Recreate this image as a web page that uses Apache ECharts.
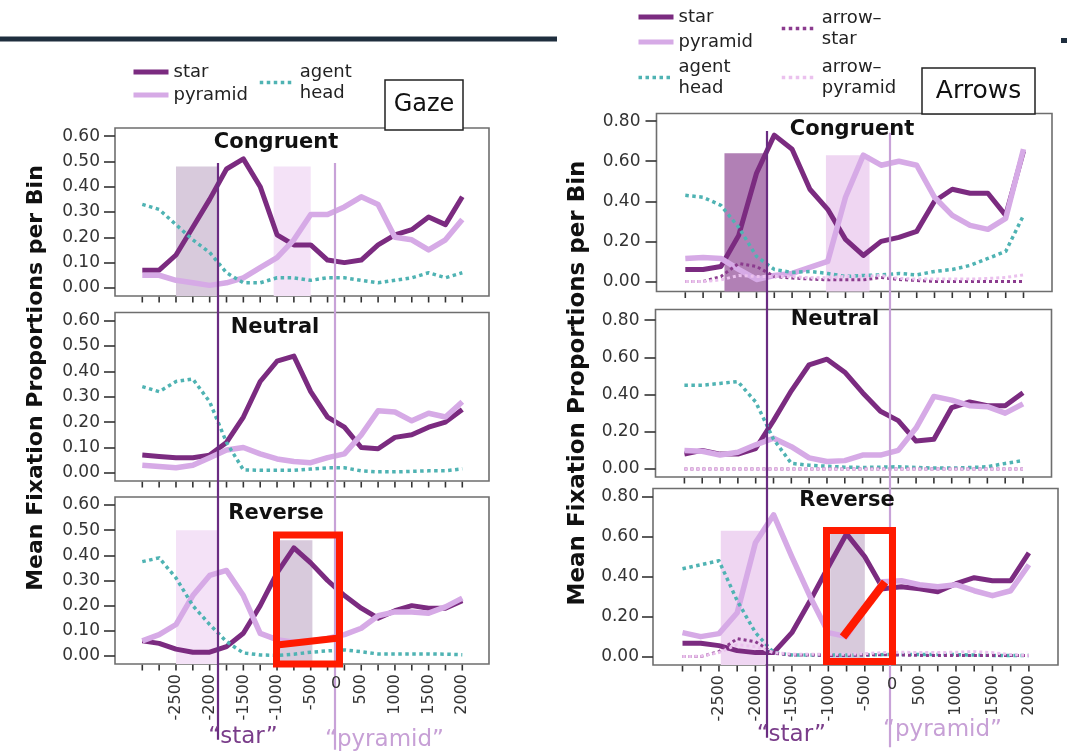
<!DOCTYPE html>
<html><head><meta charset="utf-8">
<script src="https://cdn.jsdelivr.net/npm/echarts@6/dist/echarts.min.js"></script>
<style>html,body{margin:0;padding:0;background:#fff}#c{width:1067px;height:754px}</style>
</head><body><div id="c"></div>
<script>
// ---------- DATA ----------
const bins = [0,1,2,3,4,5,6,7,8,9,10,11,12,13,14,15,16,17,18,19];
const tickBins = [2,4,6,8,10,13,15,17,19];
const tickLabels = ['-2500','-2000','-1500','-1000','-500','500','1000','1500','2000'];
const zeroBin = 11.5;
const zeroLabel = '0';
const gazeYTicks = [0,0.1,0.2,0.3,0.4,0.5,0.6];
const arrowYTicks = [0,0.2,0.4,0.6,0.8];
const gazeOnsets = {star: 4.46, pyramid: 11.45};
const arrowOnsets = {star: 4.57, pyramid: 11.5};

// Gaze – Congruent
const gcStar  = [0.07,0.07,0.13,0.24,0.35,0.47,0.51,0.40,0.21,0.17,0.17,0.11,0.10,0.11,0.17,0.21,0.23,0.28,0.25,0.36];
const gcPyr   = [0.05,0.05,0.03,0.02,0.01,0.02,0.04,0.08,0.12,0.19,0.29,0.29,0.32,0.36,0.33,0.20,0.19,0.15,0.19,0.27];
const gcAgent = [0.33,0.31,0.25,0.19,0.14,0.06,0.02,0.02,0.04,0.04,0.03,0.04,0.04,0.03,0.02,0.03,0.04,0.06,0.04,0.06];
// Gaze – Neutral
const gnStar  = [0.07,0.065,0.06,0.06,0.07,0.12,0.22,0.36,0.44,0.46,0.32,0.22,0.18,0.10,0.095,0.14,0.15,0.18,0.20,0.25];
const gnPyr   = [0.03,0.025,0.02,0.03,0.06,0.09,0.10,0.075,0.055,0.045,0.04,0.06,0.075,0.15,0.245,0.24,0.205,0.235,0.22,0.28];
const gnAgent = [0.34,0.32,0.36,0.37,0.28,0.12,0.012,0.01,0.01,0.01,0.015,0.02,0.02,0.008,0.004,0.004,0.006,0.008,0.008,0.016];
// Gaze – Reverse
const grStar  = [0.06,0.05,0.027,0.015,0.015,0.037,0.09,0.20,0.33,0.43,0.37,0.30,0.24,0.19,0.15,0.18,0.20,0.19,0.19,0.22];
const grPyr   = [0.06,0.085,0.125,0.24,0.32,0.34,0.24,0.09,0.065,0.055,0.06,0.07,0.085,0.11,0.16,0.175,0.175,0.17,0.195,0.23];
const grAgent = [0.375,0.39,0.31,0.20,0.125,0.057,0.012,0.004,0.002,0.007,0.015,0.02,0.024,0.017,0.008,0.008,0.008,0.008,0.007,0.005];
// Arrows – Congruent
const acStar  = [0.06,0.06,0.075,0.23,0.54,0.73,0.66,0.46,0.36,0.21,0.13,0.20,0.22,0.25,0.40,0.46,0.44,0.44,0.33,0.65];
const acPyr   = [0.115,0.12,0.115,0.06,0.01,0.03,0.04,0.07,0.10,0.42,0.63,0.58,0.60,0.58,0.42,0.33,0.28,0.26,0.315,0.66];
const acAgent = [0.43,0.42,0.38,0.27,0.125,0.06,0.045,0.05,0.04,0.025,0.03,0.033,0.04,0.033,0.05,0.06,0.08,0.115,0.15,0.33];
const acArrowStar = [0,0,0.025,0.09,0.075,0.025,0.017,0.012,0.008,0.008,0.008,0.02,0.01,0.005,0,0,0,0,0,0];
const acArrowPyr  = [0,0,0.008,0.03,0.025,0.025,0.025,0.018,0.018,0.025,0.025,0.03,0.015,0.012,0.012,0.012,0.012,0.015,0.02,0.033];
// Arrows – Neutral
const anStar  = [0.08,0.10,0.08,0.08,0.11,0.26,0.42,0.56,0.59,0.52,0.41,0.31,0.26,0.15,0.16,0.33,0.36,0.34,0.34,0.41];
const anPyr   = [0.10,0.095,0.075,0.09,0.13,0.165,0.12,0.06,0.04,0.045,0.075,0.075,0.10,0.22,0.39,0.37,0.34,0.335,0.30,0.35];
const anAgent = [0.45,0.45,0.46,0.47,0.36,0.16,0.03,0.02,0.015,0.01,0.008,0.01,0.012,0.008,0.005,0.005,0.008,0.012,0.03,0.045];
const anArrowStar = [0,0,0,0,0,0,0,0,0,0,0,0,0,0,0,0,0,0,0,0];
const anArrowPyr  = [0,0,0,0,0,0,0,0,0,0,0,0,0,0,0,0,0,0,0,0];
// Arrows – Reverse
const arStar  = [0.067,0.067,0.055,0.03,0.02,0.02,0.12,0.28,0.45,0.615,0.50,0.34,0.35,0.34,0.325,0.365,0.395,0.38,0.38,0.52];
const arPyr   = [0.12,0.10,0.115,0.22,0.57,0.71,0.50,0.30,0.12,0.10,0.25,0.375,0.38,0.36,0.35,0.36,0.33,0.305,0.33,0.46];
const arAgent = [0.44,0.46,0.48,0.28,0.12,0.02,0.008,0.008,0.008,0.008,0.008,0.01,0.01,0.01,0.01,0.01,0.008,0.006,0.005,0.005];
const arArrowStar = [0,0,0.025,0.09,0.075,0.017,0.008,0.008,0.006,0.006,0.008,0.01,0.008,0.006,0.006,0.006,0.006,0.006,0.005,0.005];
const arArrowPyr  = [0,0.002,0.02,0.06,0.05,0.02,0.012,0.012,0.012,0.012,0.015,0.02,0.022,0.02,0.02,0.022,0.025,0.02,0.01,0.005];

// shaded analysis windows [fromBin, toBin, top]
const gcWindows = [[2,4.45,0.48],[7.8,10,0.48]];
const grWindows = [[2,4.45,0.50],[8.1,10.1,0.46]];
const acWindows = [[2.2,4.55,0.64],[7.9,10.35,0.63]];
const arWindows = [[2.1,4.55,0.63],[8.1,10.0,0.62]];

// ---------- STYLE / LAYOUT ----------
const FF = "'DejaVu Sans', 'Liberation Sans', sans-serif";
const C = {
  star:'#7b2b80', pyramid:'#d6aae6', agent:'#4fb3b3', arrowStar:'#8b3b8e', arrowPyr:'#ebc1ee',
  shadeDark:'#d8cadc', shadePink:'#f4e2f7', shadeStrong:'#b180b5', shadePink2:'#efd6f2'
};
// frame = outer box; inner = span of first..last bin tick
const frames = [
  {left:115,  width:374,   top:128,   height:168,   ymin:-0.032, ymax:0.632, ticks:gazeYTicks,  labels:false, margin:15, inL:142.3, inW:320},
  {left:115,  width:374,   top:312.5, height:168.5, ymin:-0.032, ymax:0.632, ticks:gazeYTicks,  labels:false, margin:15, inL:142.3, inW:320},
  {left:115,  width:374,   top:497,   height:167,   ymin:-0.032, ymax:0.632, ticks:gazeYTicks,  labels:true,  margin:15, inL:142.3, inW:320},
  {left:656.5,width:395.5, top:113.5, height:178,   ymin:-0.05,  ymax:0.838, ticks:arrowYTicks, labels:false, margin:16, inL:685.3, inW:338.2},
  {left:655.5,width:396,   top:309.5, height:167.5, ymin:-0.043, ymax:0.857, ticks:arrowYTicks, labels:false, margin:16, inL:684.4, inW:338.6},
  {left:653,  width:405,   top:488.5, height:176.5, ymin:-0.042, ymax:0.842, ticks:arrowYTicks, labels:true,  margin:14, inL:682.5, inW:346.4}
];
const XMIN = -1.62, XMAX = 20.6;
const D = 6;      // first data grid index
const OV = 12;    // first overlay grid index

const option = {animation:false, backgroundColor:'#fff', grid:[], xAxis:[], yAxis:[], series:[], legend:[]};
// frames (box only)
frames.forEach((f,i)=>{
  option.grid.push({left:f.left, top:f.top, width:f.width, height:f.height, show:true,
    borderColor:'#6e6e6e', borderWidth:1.6, backgroundColor:'#fff'});
  option.xAxis.push({type:'value', gridIndex:i, min:0, max:1, show:false, axisLine:{onZero:false}});
  option.yAxis.push({type:'value', gridIndex:i, min:0, max:1, show:false, axisLine:{onZero:false}});
});
// data grids
frames.forEach((f,i)=>{
  const gi = D+i;
  option.grid.push({left:f.inL, top:f.top, width:f.inW, height:f.height, show:false});
  option.xAxis.push({type:'value', gridIndex:gi, min:0, max:19, interval:1, position:'bottom',
    axisLine:{show:false, onZero:false}, splitLine:{show:false},
    axisTick:{show:false},
    axisLabel:{show:f.labels, rotate:90, margin:10, fontSize:16, color:'#333', fontFamily:FF,
      formatter:v=>{const k=tickBins.indexOf(v); return k<0?'':tickLabels[k];}}});
  option.yAxis.push({type:'value', gridIndex:gi, min:f.ymin, max:f.ymax, position:'left', offset:f.inL-f.left,
    axisLine:{show:false, onZero:false}, splitLine:{show:false},
    axisTick:{show:true, customValues:f.ticks, length:11, lineStyle:{color:'#333', width:1.6}},
    axisLabel:{show:true, customValues:f.ticks, margin:f.margin, fontSize:17, color:'#333', fontFamily:FF,
      formatter:v=>v.toFixed(2)}});
});
// overlay grids for the word-onset lines
option.grid.push({left:115, width:374, top:163, bottom:0, show:false});
option.grid.push({left:656.5, width:395.5, top:131, bottom:0, show:false});
[OV, OV+1].forEach(i=>{
  option.xAxis.push({type:'value', gridIndex:i, min:XMIN, max:XMAX, show:false, axisLine:{onZero:false}});
  option.yAxis.push({type:'value', gridIndex:i, min:0, max:1, inverse:true, show:false, axisLine:{onZero:false}});
});

// x-axis bin ticks (one per bin, hanging below the frame)
frames.forEach((f,i)=>{
  const gi = D+i;
  option.series.push({type:'custom', name:'_ticks'+i, xAxisIndex:gi, yAxisIndex:gi, silent:true, clip:false, z:2,
    data: bins.map(b=>[b, f.ymin]),
    renderItem:(params, api)=>{
      const p = api.coord([api.value(0), api.value(1)]);
      return {type:'line', shape:{x1:p[0], y1:p[1]+0.8, x2:p[0], y2:p[1]+6.5}, style:{stroke:'#333', lineWidth:1.6}};
    }});
});

function ls(name, values, gi, st, z){
  return {type:'line', name, xAxisIndex:gi, yAxisIndex:gi, z:z||3, silent:true,
    data: values.map((v,k)=>[bins[k], v]), symbol:'none', showSymbol:false,
    lineStyle:Object.assign({cap:'butt', join:'round'}, st), itemStyle:{color:st.color}};
}
function shades(gi, wins, colors, ymin){
  return {type:'line', name:'_shade'+gi, xAxisIndex:gi, yAxisIndex:gi, data:[], silent:true, z:1,
    markArea:{silent:true, data: wins.map((w,k)=>[
      {xAxis:w[0], yAxis:ymin, itemStyle:{color:colors[k], opacity:1, borderWidth:0}},
      {xAxis:w[1], yAxis:w[2]}])}};
}
const S = {
  star:{color:C.star, width:5}, pyramid:{color:C.pyramid, width:5.5},
  agent:{color:C.agent, width:3.5, type:'dotted'},
  arrowStar:{color:C.arrowStar, width:3, type:'dotted'}, arrowPyr:{color:C.arrowPyr, width:3, type:'dotted'}
};

option.series.push(shades(D+0, gcWindows, [C.shadeDark, C.shadePink], frames[0].ymin));
option.series.push(shades(D+2, grWindows, [C.shadePink, C.shadeDark], frames[2].ymin));
option.series.push(shades(D+3, acWindows, [C.shadeStrong, C.shadePink2], frames[3].ymin));
option.series.push(shades(D+5, arWindows, [C.shadePink2, C.shadeDark], frames[5].ymin));

const gazeSets = [[gcStar,gcPyr,gcAgent],[gnStar,gnPyr,gnAgent],[grStar,grPyr,grAgent]];
gazeSets.forEach((s,i)=>{
  const gi = D+i;
  option.series.push(ls('star', s[0], gi, S.star, 3));
  option.series.push(ls('pyramid', s[1], gi, S.pyramid, 3));
  option.series.push(ls('agent head', s[2], gi, S.agent, 4));
});
const arrowSets = [[acStar,acPyr,acAgent,acArrowStar,acArrowPyr],[anStar,anPyr,anAgent,anArrowStar,anArrowPyr],[arStar,arPyr,arAgent,arArrowStar,arArrowPyr]];
arrowSets.forEach((s,i)=>{
  const gi = D+3+i;
  option.series.push(ls('star', s[0], gi, S.star, 3));
  option.series.push(ls('pyramid', s[1], gi, S.pyramid, 3));
  option.series.push(ls('agent head', s[2], gi, S.agent, 4));
  option.series.push(ls('arrow-star', s[3], gi, S.arrowStar, 4));
  option.series.push(ls('arrow-pyramid', s[4], gi, S.arrowPyr, 4));
});
function onsetLines(gi, on, ends){
  return {type:'line', name:'_onset'+gi, xAxisIndex:gi, yAxisIndex:gi, data:[[on.star,0]], symbol:'none', silent:true, z:6,
    lineStyle:{opacity:0},
    markLine:{silent:true, symbol:['none','none'], label:{show:false}, animation:false,
      data:[
        [{coord:[on.star,ends[0]], lineStyle:{color:'#6a2c82', width:2.2, type:'solid'}},{coord:[on.star,ends[1]]}],
        [{coord:[on.pyramid,ends[2]], lineStyle:{color:'#c8a2d8', width:2.2, type:'solid'}},{coord:[on.pyramid,ends[3]]}]
      ]}};
}
option.series.push(onsetLines(OV, gazeOnsets, [0,0.976,0,0.993]));
option.series.push(onsetLines(OV+1, arrowOnsets, [0,0.974,0.003,0.989]));

const legendNames = {'star':'star','pyramid':'pyramid','agent head':'agent\nhead','arrow-star':'arrow–\nstar','arrow-pyramid':'arrow–\npyramid'};
const legendLine = {
  'star':{color:C.star, width:5, type:'solid'}, 'pyramid':{color:C.pyramid, width:5, type:'solid'},
  'agent head':{color:C.agent, width:3.5, type:'dotted'}, 'arrow-star':{color:C.arrowStar, width:3.5, type:'dotted'},
  'arrow-pyramid':{color:C.arrowPyr, width:3.5, type:'dotted'}
};
function lg(left, top, names, gap){
  return {left, top, orient:'vertical', itemGap:gap, itemWidth:35, itemHeight:14, selectedMode:false,
    data: names.map(n=>({name:n, lineStyle:legendLine[n], itemStyle:{opacity:0, borderWidth:0}})),
    itemStyle:{opacity:0, borderWidth:0},
    formatter:n=>legendNames[n], textStyle:{fontSize:18, lineHeight:21, color:'#222', fontFamily:FF}, padding:0};
}
option.legend = [
  lg(131, 61.5, ['star','pyramid'], 2),
  lg(258, 61.5, ['agent head'], 2),
  lg(636, 6.5, ['star','pyramid','agent head'], 4),
  lg(780, 7.5, ['arrow-star','arrow-pyramid'], 7)
];

const chart = echarts.init(document.getElementById('c'));
chart.setOption(option);

// ---------- TEXT & ANNOTATIONS ----------
function px(axisIdx, v){ return chart.convertToPixel({xAxisIndex:axisIdx}, v); }
const titles = [
  ['Congruent', 276, 143], ['Neutral', 275, 328], ['Reverse', 276, 514],
  ['Congruent', 852, 130], ['Neutral', 835, 320], ['Reverse', 847, 501]
];
const g = [];
g.push({type:'line', shape:{x1:0,y1:39,x2:557,y2:39}, style:{stroke:'#1f2e3e', lineWidth:5}, z:10});
g.push({type:'rect', shape:{x:1061,y:38,width:6,height:5}, style:{fill:'#1f2e3e'}, z:10});
titles.forEach(t=>g.push({type:'text', x:t[1], y:t[2], z:20,
  style:{text:t[0], fill:'#111', font:'bold 21px '+FF, align:'center', verticalAlign:'middle'}}));
g.push({type:'text', x:36, y:378, rotation:Math.PI/2, z:20,
  style:{text:'Mean Fixation Proportions per Bin', fill:'#111', font:'bold 22px '+FF, align:'center', verticalAlign:'middle'}});
g.push({type:'text', x:578, y:383, rotation:Math.PI/2, z:20,
  style:{text:'Mean Fixation Proportions per Bin', fill:'#111', font:'bold 23px '+FF, align:'center', verticalAlign:'middle'}});
// panel name boxes
g.push({type:'rect', shape:{x:385,y:80,width:78,height:50}, style:{fill:'#fff', stroke:'#222', lineWidth:1.5}, z:30});
g.push({type:'text', x:424, y:105, z:31, style:{text:'Gaze', fill:'#111', font:'24px '+FF, align:'center', verticalAlign:'middle'}});
g.push({type:'rect', shape:{x:922,y:68,width:113,height:46}, style:{fill:'#fff', stroke:'#222', lineWidth:1.5}, z:30});
g.push({type:'text', x:978.5, y:91, z:31, style:{text:'Arrows', fill:'#111', font:'25px '+FF, align:'center', verticalAlign:'middle'}});
// zero labels
g.push({type:'text', x:px(D+2, zeroBin), y:684, z:20, style:{text:zeroLabel, fill:'#333', font:'16px '+FF, align:'center', verticalAlign:'middle'}});
g.push({type:'text', x:px(D+5, zeroBin), y:685, z:20, style:{text:zeroLabel, fill:'#333', font:'16px '+FF, align:'center', verticalAlign:'middle'}});
// onset word labels
g.push({type:'text', x:px(OV, gazeOnsets.star)-9, y:737, z:20, style:{text:'“star”', fill:'#7a3d8a', font:'23px '+FF, align:'left', verticalAlign:'middle'}});
g.push({type:'text', x:px(OV, gazeOnsets.pyramid)-10, y:740, z:20, style:{text:'“pyramid”', fill:'#c7a0d6', font:'23px '+FF, align:'left', verticalAlign:'middle'}});
g.push({type:'text', x:px(OV+1, arrowOnsets.star)-10, y:735, z:20, style:{text:'“star”', fill:'#7a3d8a', font:'23px '+FF, align:'left', verticalAlign:'middle'}});
g.push({type:'text', x:px(OV+1, arrowOnsets.pyramid)-7, y:730, z:20, style:{text:'“pyramid”', fill:'#c7a0d6', font:'23px '+FF, align:'left', verticalAlign:'middle'}});
// red highlight annotations
g.push({type:'rect', shape:{x:276.5,y:535,width:63,height:129}, style:{fill:'none', stroke:'#ff1a00', lineWidth:7}, z:40});
g.push({type:'line', shape:{x1:277,y1:645,x2:339,y2:638}, style:{stroke:'#ff1a00', lineWidth:7}, z:40});
g.push({type:'rect', shape:{x:826.5,y:530.5,width:66,height:131}, style:{fill:'none', stroke:'#ff1a00', lineWidth:7}, z:40});
g.push({type:'line', shape:{x1:843,y1:637,x2:885,y2:582}, style:{stroke:'#ff1a00', lineWidth:8}, z:40});
chart.setOption({graphic:g});
</script></body></html>
